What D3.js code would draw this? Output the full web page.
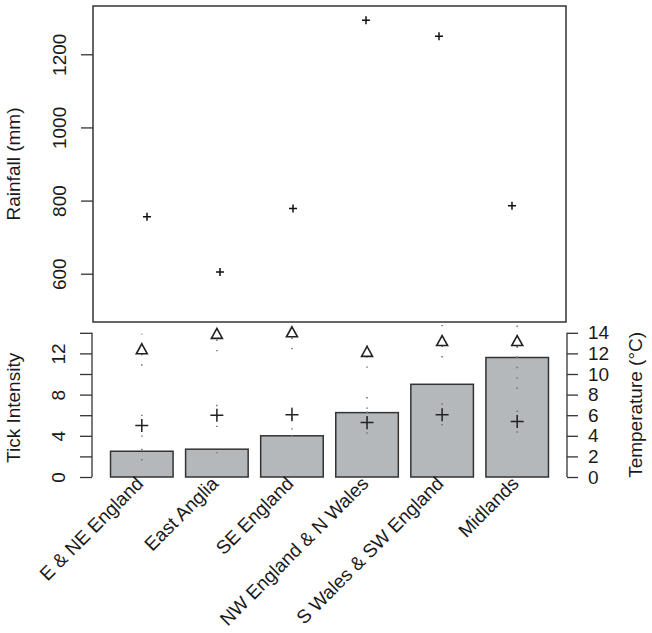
<!DOCTYPE html>
<html>
<head>
<meta charset="utf-8">
<script src="https://cdn.jsdelivr.net/npm/d3@7"></script>
<style>
    body { margin: 0; background: #fff; }
    text { font-family: "Liberation Sans", Arial, sans-serif; fill: #1a1a1a; }
</style>
</head>
<body>
<div id="chart"></div>
<script>
var regions = ["E & NE England", "East Anglia", "SE England", "NW England & N Wales", "S Wales & SW England", "Midlands"];
var rainfall = [756, 605, 778, 1293, 1249, 786];

var tickIntensity = [2.5, 2.7, 4.0, 6.25, 9.0, 11.6];
var intensityLow = [1.6, 2.3, 3.95, 4.6, 9.0, 8.55];
var intensityHigh = [3.4, 3.0, 4.05, 7.9, 9.0, 14.65];

var minTemp = [5.0, 6.0, 6.05, 5.3, 6.05, 5.4];
var minTempLow = [3.9, 4.85, 4.6, 4.2, 5.0, 4.3];
var minTempHigh = [6.15, 7.2, 7.6, 6.4, 7.2, 6.6];

var maxTemp = [12.4, 13.9, 14.05, 12.15, 13.2, 13.2];
var maxTempLow = [10.8, 12.2, 12.4, 10.6, 11.6, 11.55];
var maxTempHigh = [13.9, 15.6, 15.7, 13.5, 14.8, 14.9];

var rainTicks = [600, 800, 1000, 1200];
var intensityTicks = [0, 2, 4, 6, 8, 10, 12, 14];
var intensityLabels = [0, 4, 8, 12];
var tempTicks = [0, 2, 4, 6, 8, 10, 12, 14];

var W = 652, H = 633;
var FONT = 19;

var svg = d3.select("#chart")
    .append("svg")
    .attr("width", W)
    .attr("height", H);

// shared panel edges
var left = 93, right = 566;

function drawTop() {
    var top = 6, bottom = 322;

    var x = d3.scaleLinear().domain([0.26, 6.74]).range([left, right]);
    var y = d3.scaleLinear().domain([468, 1332]).range([bottom, top]);

    var g = svg.append("g").attr("id", "top");

    // frame
    g.append("rect")
        .attr("x", left)
        .attr("y", top)
        .attr("width", right - left)
        .attr("height", bottom - top)
        .style("fill", "none")
        .style("stroke", "#333")
        .style("stroke-width", 1.5);

    var axis = g.append("g")
        .attr("transform", "translate(" + left + ",0)")
        .call(d3.axisLeft(y).tickValues(rainTicks).tickSize(12).tickFormat(d3.format("d")));
    axis.select(".domain").remove();
    axis.selectAll("line").style("stroke", "#333").style("stroke-width", 1.3);
    axis.selectAll("text")
        .attr("x", 0).attr("y", 0).attr("dy", 0)
        .attr("text-anchor", "middle")
        .attr("transform", "translate(-27,0) rotate(-90)")
        .style("font-size", FONT + "px")
        .style("font-family", "Liberation Sans, Arial, sans-serif")
        .style("fill", "#1a1a1a");

    g.append("text")
        .attr("transform", "translate(20," + ((top + bottom) / 2) + ") rotate(-90)")
        .attr("text-anchor", "middle")
        .style("font-size", FONT + "px")
        .text("Rainfall (mm)");

    g.selectAll("path.rain")
        .data(rainfall)
        .enter()
        .append("path")
        .attr("class", "rain")
        .attr("transform", function(d, i) {
            return "translate(" + x(i + 1) + "," + y(d) + ")";
        })
        .attr("d", "M-4,0H4M0,-4V4")
        .style("stroke", "#111")
        .style("stroke-width", 1.5);
}

function drawBottom() {
    var x = d3.scaleLinear().domain([-0.08, 7.48]).range([left, right]);
    var y = d3.scaleLinear().domain([0, 15]).range([477, 322.5]).clamp(true);

    var g = svg.append("g").attr("id", "bottom");

    function centre(i) { return x(0.7 + 1.2 * i); }

    // bars
    g.selectAll("rect.bar")
        .data(tickIntensity)
        .enter()
        .append("rect")
        .attr("class", "bar")
        .attr("x", function(d, i) { return x(0.2 + 1.2 * i); })
        .attr("y", function(d) { return y(d); })
        .attr("width", x(1) - x(0))
        .attr("height", function(d) { return y(0) - y(d); })
        .style("fill", "#b5b8bb")
        .style("stroke", "#333")
        .style("stroke-width", 1.5);

    // dotted ranges
    var ranges = [];
    regions.forEach(function(r, i) {
        ranges.push([i, intensityLow[i], intensityHigh[i]]);
        ranges.push([i, minTempLow[i], minTempHigh[i]]);
        ranges.push([i, maxTempLow[i], maxTempHigh[i]]);
    });
    g.selectAll("line.range")
        .data(ranges)
        .enter()
        .append("line")
        .attr("class", "range")
        .attr("x1", function(d) { return centre(d[0]); })
        .attr("x2", function(d) { return centre(d[0]); })
        .attr("y1", function(d) { return y(d[1]); })
        .attr("y2", function(d) { return y(d[2]); })
        .style("stroke", "#777")
        .style("stroke-width", 1.6)
        .style("stroke-dasharray", "1.4,9");

    // min temperature crosses
    g.selectAll("path.tmin")
        .data(minTemp)
        .enter()
        .append("path")
        .attr("class", "tmin")
        .attr("transform", function(d, i) {
            return "translate(" + centre(i) + "," + y(d) + ")";
        })
        .attr("d", "M-6.5,0H6.5M0,-6.5V6.5")
        .style("stroke", "#222")
        .style("stroke-width", 1.5);

    // max temperature triangles
    g.selectAll("path.tmax")
        .data(maxTemp)
        .enter()
        .append("path")
        .attr("class", "tmax")
        .attr("transform", function(d, i) {
            return "translate(" + centre(i) + "," + y(d) + ")";
        })
        .attr("d", "M0,-5.5L5.5,4.5L-5.5,4.5Z")
        .style("fill", "none")
        .style("stroke", "#222")
        .style("stroke-width", 1.6);

    // left axis
    var la = g.append("g")
        .attr("transform", "translate(92,0)")
        .call(d3.axisLeft(y).tickValues(intensityTicks).tickSize(12)
            .tickFormat(function(d) { return intensityLabels.indexOf(d) >= 0 ? d : ""; }));
    la.select(".domain").remove();
    la.append("line")
        .attr("y1", y(0)).attr("y2", y(14))
        .style("stroke", "#333").style("stroke-width", 1.3);
    la.selectAll("line").style("stroke", "#333").style("stroke-width", 1.3);
    la.selectAll("text")
        .attr("x", 0).attr("y", 0).attr("dy", 0)
        .attr("text-anchor", "middle")
        .attr("transform", "translate(-27,0) rotate(-90)")
        .style("font-size", FONT + "px")
        .style("font-family", "Liberation Sans, Arial, sans-serif")
        .style("fill", "#1a1a1a");

    g.append("text")
        .attr("transform", "translate(20," + ((y(0) + y(14)) / 2 + 3) + ") rotate(-90)")
        .attr("text-anchor", "middle")
        .style("font-size", FONT + "px")
        .text("Tick Intensity");

    // right axis
    var ra = g.append("g")
        .attr("transform", "translate(567,0)")
        .call(d3.axisRight(y).tickValues(tempTicks).tickSize(11).tickPadding(10));
    ra.select(".domain").remove();
    ra.append("line")
        .attr("y1", y(0)).attr("y2", y(14))
        .style("stroke", "#333").style("stroke-width", 1.3);
    ra.selectAll("line").style("stroke", "#333").style("stroke-width", 1.3);
    ra.selectAll("text")
        .style("font-size", FONT + "px")
        .style("font-family", "Liberation Sans, Arial, sans-serif")
        .style("fill", "#1a1a1a");

    g.append("text")
        .attr("transform", "translate(642," + ((y(0) + y(14)) / 2) + ") rotate(-90)")
        .attr("text-anchor", "middle")
        .style("font-size", FONT + "px")
        .text("Temperature (\u00B0C)");

    // region labels
    g.selectAll("text.region")
        .data(regions)
        .enter()
        .append("text")
        .attr("class", "region")
        .attr("transform", function(d, i) {
            return "translate(" + (centre(i) - 2) + ",480) rotate(-45)";
        })
        .attr("dy", "0.35em")
        .attr("text-anchor", "end")
        .style("font-size", FONT + "px")
        .text(function(d) { return d; });
}

drawTop();
drawBottom();
</script>
</body>
</html>
